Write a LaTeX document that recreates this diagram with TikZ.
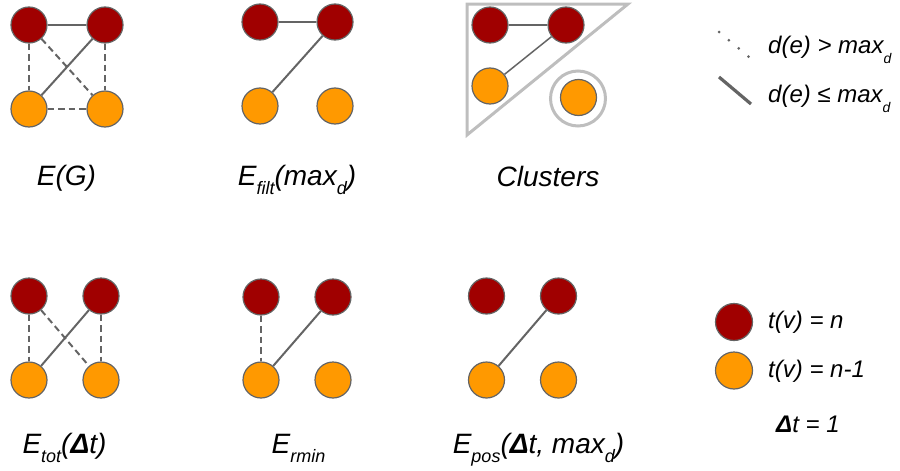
\documentclass[tikz,border=0pt]{standalone}
\usepackage{fontspec}
\setmainfont{Liberation Sans}
\definecolor{cRed}{RGB}{160,0,0}
\definecolor{cOrange}{RGB}{255,153,0}
\definecolor{cBorder}{RGB}{100,100,100}
\definecolor{cEdge}{RGB}{100,100,100}
\definecolor{cLight}{RGB}{190,190,190}
\newcommand\lsub[1]{\raisebox{-9.5pt}{\fontsize{18}{20}\selectfont #1}}
\newcommand\gsub[1]{\raisebox{-10pt}{\fontsize{14}{16}\selectfont #1}}
\newcommand\dt{{\bfseries Δ}t}
\begin{document}
\begin{tikzpicture}[x=1pt,y=-1pt,
  redv/.style={circle, draw=cBorder, line width=1.2pt, fill=cRed, minimum size=36pt, inner sep=0pt},
  orangev/.style={circle, draw=cBorder, line width=1.2pt, fill=cOrange, minimum size=36pt, inner sep=0pt},
  near/.style={draw=cEdge, line width=2pt},
  far/.style={draw=cEdge, line width=2pt, dash pattern=on 6.5pt off 4pt},
  lbl/.style={anchor=base, inner sep=0pt, font=\fontsize{28}{32}\selectfont\itshape},
  leg/.style={anchor=base west, inner sep=0pt, font=\fontsize{24}{28}\selectfont\itshape},
  clusterline/.style={draw=cLight, line width=3pt},
  ringv/.style={circle, draw=cLight, line width=3pt, minimum size=55pt, inner sep=0pt},
  legfar/.style={draw=cEdge, line width=3pt, line cap=round, dash pattern=on 0pt off 12.8pt},
  legnear/.style={draw=cEdge, line width=3.2pt}
]
\useasboundingbox (0,0) rectangle (900,471);

% E(G)
\node[redv] (a1) at (29,25) {};
\node[redv] (a2) at (105,25) {};
\node[orangev] (a3) at (29,109) {};
\node[orangev] (a4) at (105,109) {};
\draw[near] (a1) -- (a2);
\draw[near] (a2) -- (a3);
\draw[far] (a1) -- (a3);
\draw[far] (a2) -- (a4);
\draw[far] (a3) -- (a4);
\draw[far] (a1) -- (a4);
\node[lbl] (la) at (66.5,185) {E(G)};

% E_filt
\node[redv] (b1) at (260,22) {};
\node[redv] (b2) at (335,22) {};
\node[orangev] (b3) at (260,106) {};
\node[orangev] (b4) at (335,106) {};
\draw[near] (b1) -- (b2);
\draw[near] (b2) -- (b3);
\node[lbl] (lb) at (297,185) {E\lsub{filt}(max\lsub{d})};

% Clusters
\coordinate (t1) at (467,4);
\coordinate (t2) at (628,4);
\coordinate (t3) at (467,135);
\draw[clusterline] (t1) -- (t2) -- (t3) -- cycle;
\node[ringv] (ring) at (578,98.5) {};
\node[redv] (c1) at (490,25) {};
\node[redv] (c2) at (566,25) {};
\node[orangev] (c3) at (490,86) {};
\node[orangev] (c4) at (578.5,97.5) {};
\draw[near, line width=1.5pt] (c1) -- (c2);
\draw[near, line width=1.5pt] (c2) -- (c3);
\node[lbl] (lc) at (548,186) {Clusters};

% E_tot
\node[redv] (d1) at (29,296) {};
\node[redv] (d2) at (101,296) {};
\node[orangev] (d3) at (29,380) {};
\node[orangev] (d4) at (101,380) {};
\draw[far] (d1) -- (d3);
\draw[far] (d2) -- (d4);
\draw[far] (d1) -- (d4);
\draw[near] (d2) -- (d3);
\node[lbl] (ld) at (64.5,453) {E\lsub{tot}(\dt)};

% E_rmin
\node[redv] (e1) at (261,297) {};
\node[redv] (e2) at (333,297) {};
\node[orangev] (e3) at (261,380) {};
\node[orangev] (e4) at (333,380) {};
\draw[far] (e1) -- (e3);
\draw[near] (e2) -- (e3);
\node[lbl] (le) at (298.5,453) {E\lsub{rmin}};

% E_pos
\node[redv] (f1) at (486.5,296) {};
\node[redv] (f2) at (558.5,296) {};
\node[orangev] (f3) at (486.5,380) {};
\node[orangev] (f4) at (558.5,380) {};
\draw[near] (f2) -- (f3);
\node[lbl] (lf) at (538.5,453) {E\lsub{pos}(\dt, max\lsub{d})};

% legend
\coordinate (g1) at (719,32);
\coordinate (g2) at (749,57);
\draw[legfar] (g1) -- (g2);
\node[leg] (gt1) at (768,53) {d(e) > max\gsub{d}};
\coordinate (h1) at (719,77);
\coordinate (h2) at (751,104);
\draw[legnear] (h1) -- (h2);
\node[leg] (gt2) at (768,102) {d(e) ≤ max\gsub{d}};

\node[redv, minimum size=37pt] (l1) at (734,322) {};
\node[orangev, minimum size=37pt] (l2) at (734,370.5) {};
\node[leg] (lt1) at (768,328) {t(v) = n};
\node[leg] (lt2) at (768,377) {t(v) = n-1};
\node[leg] (lt3) at (776,432) {\dt{} = 1};
\end{tikzpicture}
\end{document}
